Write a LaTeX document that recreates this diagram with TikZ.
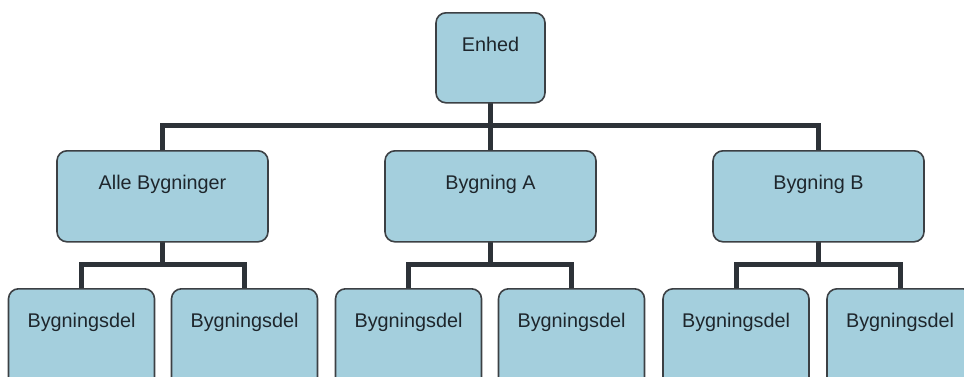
\documentclass[tikz,border=0pt]{standalone}
\usepackage{fontspec}
\setmainfont{Liberation Sans}
\usetikzlibrary{backgrounds}
\definecolor{boxfill}{RGB}{164,207,221}
\definecolor{boxline}{RGB}{60,64,68}
\definecolor{connline}{RGB}{45,50,56}
\definecolor{txt}{RGB}{30,38,44}
\tikzset{
  orgbox/.style={draw=boxline, fill=boxfill, line width=1.6pt, rounded corners=10pt,
    inner sep=0pt, anchor=north, text=txt, font=\fontsize{19.8}{22}\selectfont,
    text height=39pt},
  lvlone/.style={orgbox, text depth=51pt, minimum width=109pt},
  lvltwo/.style={orgbox, text depth=52pt, minimum width=211pt},
  lvlthree/.style={orgbox, text depth=61pt, minimum width=146pt},
  conn/.style={draw=connline, line width=5pt, line join=miter, line cap=rect}
}
\begin{document}
\begin{tikzpicture}[x=1pt,y=-1pt]
\useasboundingbox (0,0) rectangle (964,376);
\clip (0,0) rectangle (964,376);
% y positions of the horizontal bars
\coordinate (bartop) at (0,125);
\coordinate (barsub) at (0,264);
\node[lvlone] (enhed) at (490.5,12) {Enhed};
\node[lvltwo] (alle) at (162.5,150) {Alle Bygninger};
\node[lvltwo] (byga) at (490.5,150) {Bygning A};
\node[lvltwo] (bygb) at (818.5,150) {Bygning B};
\node[lvlthree] (d1) at (81.5,288) {Bygningsdel};
\node[lvlthree] (d2) at (244.5,288) {Bygningsdel};
\node[lvlthree] (d3) at (408.5,288) {Bygningsdel};
\node[lvlthree] (d4) at (571.5,288) {Bygningsdel};
\node[lvlthree] (d5) at (736,288) {Bygningsdel};
\node[lvlthree] (d6) at (900,288) {Bygningsdel};
\begin{scope}[on background layer]
\draw[conn] (enhed.south) -- (enhed.south |- bartop) -| (alle.north);
\draw[conn] (enhed.south |- bartop) -| (bygb.north);
\draw[conn] (enhed.south) -- (byga.north);
\draw[conn] (alle.south) -- (alle.south |- barsub) -| (d1.north);
\draw[conn] (alle.south |- barsub) -| (d2.north);
\draw[conn] (byga.south) -- (byga.south |- barsub) -| (d3.north);
\draw[conn] (byga.south |- barsub) -| (d4.north);
\draw[conn] (bygb.south) -- (bygb.south |- barsub) -| (d5.north);
\draw[conn] (bygb.south |- barsub) -| (d6.north);
\end{scope}
\end{tikzpicture}
\end{document}
